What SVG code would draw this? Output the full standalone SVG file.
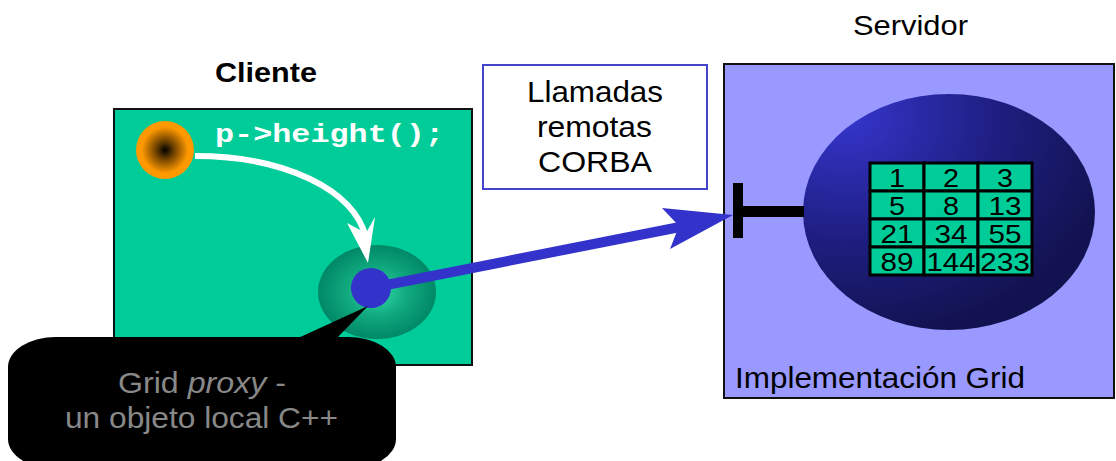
<svg xmlns="http://www.w3.org/2000/svg" width="1116" height="461" viewBox="0 0 1116 461">
<defs>
<radialGradient id="gOrange" cx="0.5" cy="0.5" r="0.5">
<stop offset="0" stop-color="#000000"/>
<stop offset="0.3" stop-color="#6a3f00"/>
<stop offset="0.8" stop-color="#ff9900"/>
<stop offset="1" stop-color="#ff9900"/>
</radialGradient>
<radialGradient id="gProxy" cx="0.5" cy="0.5" r="0.5">
<stop offset="0" stop-color="#33ddaa"/>
<stop offset="0.5" stop-color="#11aa80"/>
<stop offset="1" stop-color="#008866"/>
</radialGradient>
<radialGradient id="gServer" cx="0.15" cy="0.1" r="0.95">
<stop offset="0" stop-color="#3535cc"/>
<stop offset="0.55" stop-color="#1e1e80"/>
<stop offset="1" stop-color="#121250"/>
</radialGradient>
</defs>
<style>
.sans{font-family:"Liberation Sans",Arial,sans-serif;}
.num{font-family:"Liberation Sans",Arial,sans-serif;font-size:25px;fill:#000;text-anchor:middle;}
.cell{fill:#00cc99;stroke:#000;stroke-width:3;}
</style>

<text class="sans" x="215" y="82" font-size="27" font-weight="bold" textLength="102" lengthAdjust="spacingAndGlyphs">Cliente</text>
<text class="sans" x="853" y="35" font-size="28" textLength="115" lengthAdjust="spacingAndGlyphs">Servidor</text>

<g id="cliente">
<rect x="114" y="109" width="358" height="256" fill="#00cc99" stroke="#111" stroke-width="2"/>
<circle cx="165" cy="150" r="29" fill="url(#gOrange)"/>
<text x="215" y="142" font-family="'Liberation Mono','Courier New',monospace" font-size="26" font-weight="bold" fill="#fff" textLength="229" lengthAdjust="spacingAndGlyphs">p-&gt;height();</text>
<ellipse cx="377" cy="292" rx="59" ry="47" fill="url(#gProxy)"/>
</g>

<g id="servidor">
<rect x="724" y="64" width="390" height="334" fill="#9999ff" stroke="#111" stroke-width="2"/>
<ellipse cx="949" cy="212" rx="146" ry="118" fill="url(#gServer)"/>
<rect x="733" y="183" width="10" height="55" fill="#000"/>
<rect x="742" y="206" width="62" height="11" fill="#000"/>
<g id="grid">
<rect class="cell" x="870" y="163" width="54" height="28"/>
<rect class="cell" x="924" y="163" width="54" height="28"/>
<rect class="cell" x="978" y="163" width="54" height="28"/>
<rect class="cell" x="870" y="191" width="54" height="28"/>
<rect class="cell" x="924" y="191" width="54" height="28"/>
<rect class="cell" x="978" y="191" width="54" height="28"/>
<rect class="cell" x="870" y="219" width="54" height="28"/>
<rect class="cell" x="924" y="219" width="54" height="28"/>
<rect class="cell" x="978" y="219" width="54" height="28"/>
<rect class="cell" x="870" y="247" width="54" height="28"/>
<rect class="cell" x="924" y="247" width="54" height="28"/>
<rect class="cell" x="978" y="247" width="54" height="28"/>
<text class="num" x="897" y="187" textLength="16" lengthAdjust="spacingAndGlyphs">1</text>
<text class="num" x="951" y="187" textLength="16" lengthAdjust="spacingAndGlyphs">2</text>
<text class="num" x="1005" y="187" textLength="16" lengthAdjust="spacingAndGlyphs">3</text>
<text class="num" x="897" y="215" textLength="16" lengthAdjust="spacingAndGlyphs">5</text>
<text class="num" x="951" y="215" textLength="16" lengthAdjust="spacingAndGlyphs">8</text>
<text class="num" x="1005" y="215" textLength="33" lengthAdjust="spacingAndGlyphs">13</text>
<text class="num" x="897" y="243" textLength="33" lengthAdjust="spacingAndGlyphs">21</text>
<text class="num" x="951" y="243" textLength="33" lengthAdjust="spacingAndGlyphs">34</text>
<text class="num" x="1005" y="243" textLength="33" lengthAdjust="spacingAndGlyphs">55</text>
<text class="num" x="897" y="271" textLength="33" lengthAdjust="spacingAndGlyphs">89</text>
<text class="num" x="951" y="271" textLength="49" lengthAdjust="spacingAndGlyphs">144</text>
<text class="num" x="1005" y="271" textLength="50" lengthAdjust="spacingAndGlyphs">233</text>
</g>
<text class="sans" x="735" y="388" font-size="29" textLength="290" lengthAdjust="spacingAndGlyphs">Implementación Grid</text>
</g>

<g id="llamadas">
<rect x="483" y="65" width="224" height="124" fill="#fff" stroke="#4444cc" stroke-width="2"/>
<text class="sans" x="527" y="102" font-size="30" textLength="136" lengthAdjust="spacingAndGlyphs">Llamadas</text>
<text class="sans" x="537" y="137" font-size="30" textLength="115" lengthAdjust="spacingAndGlyphs">remotas</text>
<text class="sans" x="538" y="172" font-size="30" textLength="114" lengthAdjust="spacingAndGlyphs">CORBA</text>
</g>

<g id="connectors">
<path d="M195,156 C285,156 355,190 366,238" fill="none" stroke="#fff" stroke-width="6"/>
<polygon points="368,263 347,223 366,233 375,217" fill="#fff"/>
<line x1="371" y1="288" x2="685" y2="226" stroke="#3333cc" stroke-width="10"/>
<polygon points="733,215 662,208 679,226 670,249" fill="#3333cc"/>
<circle cx="371" cy="288" r="20" fill="#3333cc"/>
</g>

<g id="proxy-callout">
<rect x="8" y="337" width="388" height="132" rx="48" ry="30" fill="#000"/>
<polygon points="296,339 368,306 336,339" fill="#000"/>
<text class="sans" x="118" y="393" font-size="30" fill="#888" textLength="168" lengthAdjust="spacingAndGlyphs">Grid <tspan font-style="italic">proxy</tspan> -</text>
<text class="sans" x="65" y="428" font-size="30" fill="#888" textLength="273" lengthAdjust="spacingAndGlyphs">un objeto local C++</text>
</g>
</svg>
